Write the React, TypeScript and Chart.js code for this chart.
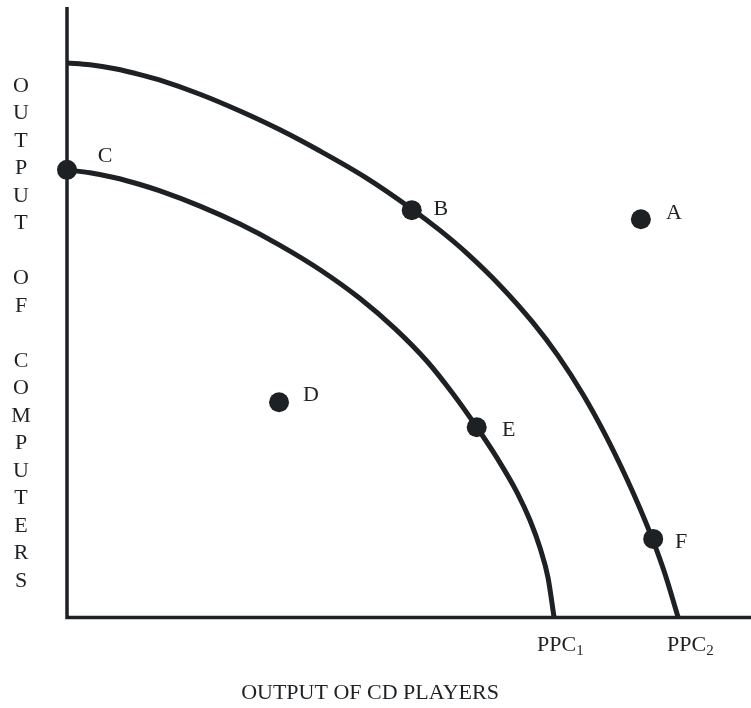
import React, { useEffect, useRef } from "react";
import { Chart, registerables } from "chart.js";

Chart.register(...registerables);

// Production possibility curves (arbitrary units)
const ppc1X = [0, 0.336, 0.702, 1.067, 1.36, 1.944, 2.529, 3.114, 3.699, 4.284, 4.795, 5.263, 5.629, 5.994, 6.287, 6.579, 6.769, 6.915, 7.032, 7.12];
const ppc1Y = [7.328, 7.282, 7.2, 7.09, 6.985, 6.736, 6.441, 6.093, 5.693, 5.221, 4.728, 4.193, 3.68, 3.107, 2.608, 2.044, 1.585, 1.134, 0.649, 0];
const ppc2X = [0, 0.336, 0.702, 1.067, 1.36, 1.944, 2.529, 3.114, 3.699, 4.357, 5.039, 5.453, 5.844, 6.33, 6.813, 7.178, 7.544, 7.865, 8.187, 8.377, 8.567, 8.743, 8.933];
const ppc2Y = [9.082, 9.052, 8.987, 8.892, 8.8, 8.57, 8.295, 7.987, 7.639, 7.211, 6.69, 6.338, 5.966, 5.436, 4.825, 4.284, 3.648, 2.998, 2.259, 1.779, 1.256, 0.705, 0];

// Labelled points
const pointNames = ["A", "B", "C", "D", "E", "F"];
const pointX = [8.39, 5.04, 0, 3.1, 5.99, 8.57];
const pointY = [6.52, 6.67, 7.33, 3.52, 3.11, 1.28];

const curveNames = ["PPC", "PPC"];
const curveSubs = ["1", "2"];

const xTitle = "OUTPUT OF CD PLAYERS";
const yTitleWords = ["OUTPUT", "OF", "COMPUTERS"];

const INK = "#1e2124";
const FONT = '"Liberation Serif", "Times New Roman", serif';

export default function App() {
  const ref = useRef<HTMLCanvasElement | null>(null);

  useEffect(() => {
    document.body.style.margin = "0";
    document.body.style.overflow = "hidden";
    const canvas = ref.current;
    if (!canvas) return;

    const labelOffsets: Record<string, [number, number]> = {
      A: [33, -6],
      B: [29, -1],
      C: [38, -14],
      D: [32, -7],
      E: [32, 3],
      F: [28, 3],
    };
    const curveLabelShift = [-17, -11];

    const drawPlugin = {
      id: "ppcDecor",
      beforeDatasetsDraw(chart: any) {
        const { ctx, chartArea } = chart;
        ctx.save();
        ctx.strokeStyle = INK;
        ctx.lineWidth = 3.5;
        ctx.lineCap = "butt";
        ctx.beginPath();
        ctx.moveTo(chartArea.left, chartArea.top);
        ctx.lineTo(chartArea.left, chartArea.bottom + 2.25);
        ctx.moveTo(chartArea.left - 1.75, chartArea.bottom + 0.5);
        ctx.lineTo(chartArea.right, chartArea.bottom + 0.5);
        ctx.stroke();
        ctx.restore();
      },
      afterDatasetsDraw(chart: any) {
        const { ctx, chartArea, scales } = chart;
        const xs = scales.x;
        const ys = scales.y;
        ctx.save();
        ctx.fillStyle = INK;
        ctx.font = `22px ${FONT}`;
        ctx.textAlign = "center";
        ctx.textBaseline = "middle";
        // point labels
        pointNames.forEach((n, i) => {
          const px = xs.getPixelForValue(pointX[i]);
          const py = ys.getPixelForValue(pointY[i]);
          const off = labelOffsets[n] || [30, 0];
          ctx.fillText(n, px + off[0], py + off[1]);
        });
        // curve end labels
        const ends = [ppc1X[ppc1X.length - 1], ppc2X[ppc2X.length - 1]];
        ctx.textAlign = "left";
        ctx.textBaseline = "alphabetic";
        ends.forEach((ex, i) => {
          const px = xs.getPixelForValue(ex) + curveLabelShift[i];
          const by = chartArea.bottom + 34;
          ctx.font = `22px ${FONT}`;
          ctx.fillText(curveNames[i], px, by);
          const w = ctx.measureText(curveNames[i]).width;
          ctx.font = `15px ${FONT}`;
          ctx.fillText(curveSubs[i], px + w, by + 4);
        });
        // x title
        ctx.font = `22px ${FONT}`;
        ctx.textAlign = "center";
        ctx.textBaseline = "middle";
        ctx.fillText(xTitle, 370, chartArea.bottom + 76);
        // y title stacked
        ctx.font = `22px ${FONT}`;
        const rows: string[] = [];
        yTitleWords.forEach((w, wi) => {
          if (wi > 0) rows.push("");
          w.split("").forEach((c) => rows.push(c));
        });
        rows.forEach((c, r) => {
          if (c) ctx.fillText(c, 21, 86 + r * 27.5);
        });
        ctx.restore();
      },
    };

    const lineStyle = {
      showLine: true,
      borderColor: INK,
      borderWidth: 5,
      pointRadius: 0,
      cubicInterpolationMode: "monotone" as const,
      clip: false as any,
    };

    const chart = new Chart(canvas, {
      type: "scatter",
      data: {
        datasets: [
          {
            label: "PPC1",
            data: ppc1X.map((x, i) => ({ x, y: ppc1Y[i] })),
            ...lineStyle,
          },
          {
            label: "PPC2",
            data: ppc2X.map((x, i) => ({ x, y: ppc2Y[i] })),
            ...lineStyle,
          },
          {
            label: "Points",
            data: pointX.map((x, i) => ({ x, y: pointY[i] })),
            showLine: false,
            backgroundColor: INK,
            borderColor: INK,
            borderWidth: 0,
            pointRadius: 10,
            clip: false as any,
          },
        ],
      },
      options: {
        animation: false,
        responsive: false,
        devicePixelRatio: 1,
        layout: { autoPadding: false, padding: { left: 67, right: 0, top: 7, bottom: 91 } },
        plugins: {
          legend: { display: false },
          tooltip: { enabled: false },
          title: { display: false },
        },
        scales: {
          x: { type: "linear", min: 0, max: 10, display: false },
          y: { type: "linear", min: 0, max: 10, display: false },
        },
      },
      plugins: [drawPlugin],
    });

    return () => chart.destroy();
  }, []);

  return <canvas ref={ref} width={751} height={708} style={{ display: "block" }} />;
}
